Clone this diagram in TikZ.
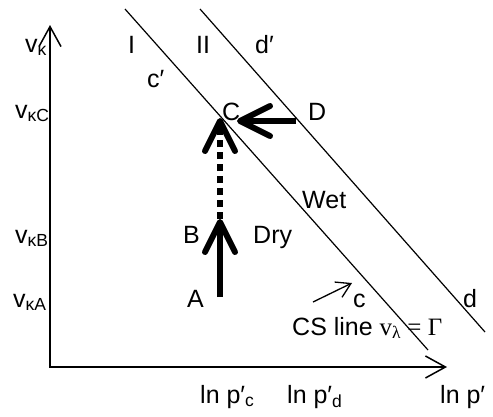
\documentclass[tikz,border=0pt]{standalone}
\usepackage{fontspec}
\setmainfont{Liberation Sans}
\newfontfamily\timesfont{Liberation Serif}
\usetikzlibrary{arrows.meta}
\newcommand{\lblsize}{\fontsize{25}{30}\selectfont}

\begin{document}
\begin{tikzpicture}[x=1pt, y=-1pt,
    lbl/.style={anchor=base west, inner sep=0pt, font=\lblsize},
    axis/.style={line width=1.5pt, line join=miter, {Straight Barb[length=20pt,width=22pt]}-{Straight Barb[length=20pt,width=22pt]}},
    csline/.style={line width=1.2pt},
    bigarrow/.style={line width=6pt, -{Straight Barb[round,length=30pt,width=30pt]}},
    dotpath/.style={line width=6pt, dash pattern=on 7pt off 5pt, -{Straight Barb[round,length=30pt,width=30pt]}},
    thinarrow/.style={line width=1.3pt, -{Straight Barb[length=14pt,width=17pt]}}
]
\useasboundingbox (0,0) rectangle (493,416);

% axes
\coordinate (O)    at (50,367);
\coordinate (ytop) at (50,25);
\coordinate (xend) at (447,367);
\draw[axis] (ytop) -- (O) -- (xend);

% lines I and II
\coordinate (I1)  at (125,9);
\coordinate (I2)  at (428,350);
\coordinate (II1) at (200,9);
\coordinate (II2) at (485,332);
\draw[csline] (I1) -- (I2);
\draw[csline] (II1) -- (II2);

% path A-B-C and D-C
\coordinate (ptA)  at (220,297);
\coordinate (ptB)  at (220,219);
\coordinate (ptC)  at (220,118);
\coordinate (ptD)  at (296,121);
\coordinate (ptCr) at (237,121);
\draw[bigarrow] (ptA) -- (ptB);
\draw[dotpath]  (ptB) -- (ptC);
\draw[bigarrow] (ptD) -- (ptCr);

\coordinate (cs1) at (313,302);
\coordinate (cs2) at (352,283);
\draw[thinarrow] (cs1) -- (cs2);

% labels
\node[lbl] (vk)  at (25,52)  {v\textsubscript{κ}};
\node[lbl] (vkC) at (15,118) {v\textsubscript{κC}};
\node[lbl] (vkB) at (15,243) {v\textsubscript{κB}};
\node[lbl] (vkA) at (13,307) {v\textsubscript{κA}};

\node[lbl] (labI)  at (128,53)  {I};
\node[lbl] (labII) at (196,53)  {II};
\node[lbl] (labdp) at (255,53)  {d′};
\node[lbl] (labcp) at (147,87)  {c′};
\node[lbl] (labC)  at (222,120) {C};
\node[lbl] (labD)  at (308,120) {D};
\node[lbl] (labB)  at (183,243) {B};
\node[lbl] (labA)  at (187,307) {A};
\node[lbl] (dry)   at (253,243) {Dry};
\node[lbl] (wet)   at (302,208) {Wet};
\node[lbl] (labc)  at (353,307) {c};
\node[lbl] (labd)  at (463,307) {d};
\node[lbl] (csl)   at (292,335) {CS line {\timesfont v\textsubscript{λ} = Γ}};

\node[lbl] (lnpc) at (200,403) {ln p′\textsubscript{c}};
\node[lbl] (lnpd) at (287,403) {ln p′\textsubscript{d}};
\node[lbl] (lnp)  at (440,403) {ln p′};
\end{tikzpicture}
\end{document}
